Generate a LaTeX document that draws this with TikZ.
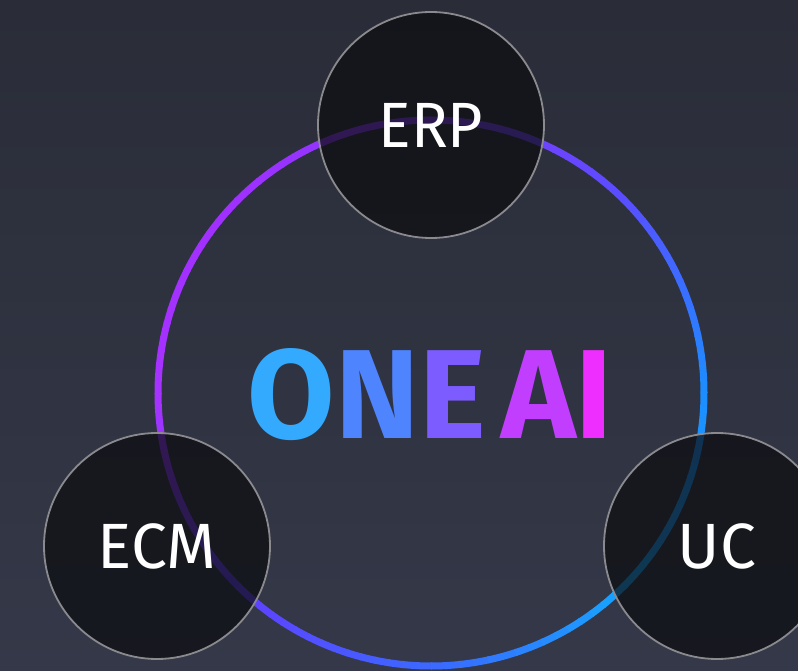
\documentclass[tikz,border=0pt]{standalone}
\usepackage{fontspec}
\usepackage{graphicx}
\setmainfont{Fira Sans}
\usetikzlibrary{calc}
\definecolor{bgT}{HTML}{2A2D38}
\definecolor{bgB}{HTML}{343848}
\definecolor{cL}{HTML}{A632FF}
\definecolor{cTL}{HTML}{A030FF}
\definecolor{cT}{HTML}{8638FF}
\definecolor{cTR}{HTML}{5A4CFF}
\definecolor{cR}{HTML}{1E8CFF}
\definecolor{cBR}{HTML}{14A8FF}
\definecolor{cB}{HTML}{3A6AFF}
\definecolor{cBL}{HTML}{6040FF}
\definecolor{bubbleFill}{HTML}{0C0D10}
\definecolor{bubbleLine}{HTML}{8A8A8E}
\definecolor{lO}{HTML}{34AAFF}
\definecolor{lN}{HTML}{4F84FF}
\definecolor{lE}{HTML}{7C5CFF}
\definecolor{lA}{HTML}{C23EFF}
\definecolor{lI}{HTML}{EE2EFF}
\tikzset{
  ringseg/.style={line width=7pt, line cap=butt},
  bubble/.style={circle, minimum size=226pt, inner sep=0pt, draw=bubbleLine, line width=1.8pt,
    fill=bubbleFill, fill opacity=0.72, text opacity=1, text=white,
    font=\fontsize{64}{64}\selectfont},
  title/.style={inner sep=0pt, font=\bfseries\fontsize{128}{128}\selectfont},
}
\begin{document}
\begin{tikzpicture}[x=1pt,y=1pt]
\useasboundingbox (0,0) rectangle (798,670);
\shade[top color=bgT, bottom color=bgB] (0,0) rectangle (798,670);
\coordinate (ctr) at (431,277);
\def\R{273}
\foreach \s/\ca/\cb in {-180/cL/cBL, -135/cBL/cB, -90/cB/cBR, -45/cBR/cR, 0/cR/cTR, 45/cTR/cT, 90/cT/cTL, 135/cTL/cL}{
  \foreach \k in {0,...,14}{
    \pgfmathsetmacro\a{\s+3*\k}
    \pgfmathtruncatemacro\p{round(100*\k/15)}
    \draw[ringseg, draw=\cb!\p!\ca] ([shift={(\a:\R)}]ctr) arc[start angle=\a, delta angle=3.3, radius=\R];
  }
}
\node[title] (oneai) at (430.5,275) {\resizebox{365pt}{90pt}{\textcolor{lO}{O}\textcolor{lN}{N}\textcolor{lE}{E}\hspace{0.12em}\textcolor{lA}{A}\textcolor{lI}{I}}};
\node[bubble] (erp) at (431,545) {\scalebox{0.95}[1]{ERP}};
\node[bubble] (ecm) at (157,124) {ECM};
\node[bubble] (uc) at (717,124) {UC};
\end{tikzpicture}
\end{document}
